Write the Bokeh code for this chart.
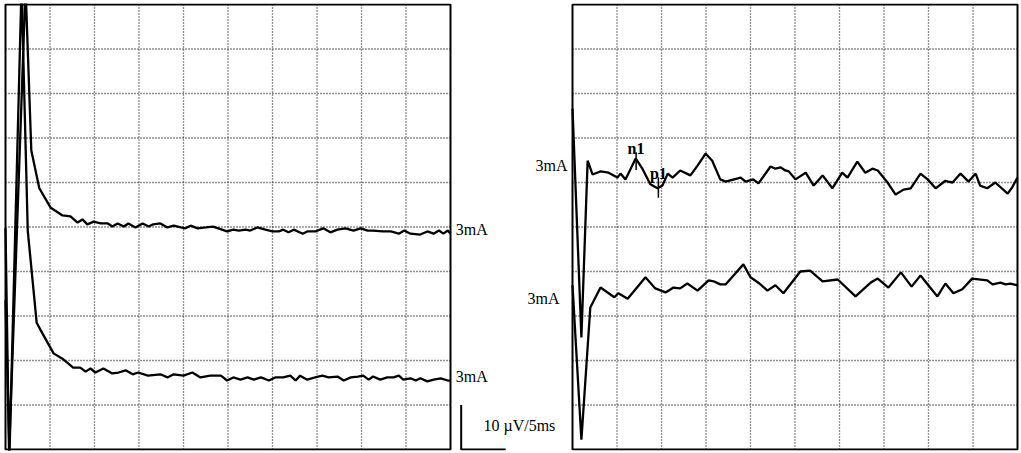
from bokeh.plotting import figure
from bokeh.layouts import row
from bokeh.models import Range1d
from bokeh.core.properties import value
from bokeh.embed import file_html
from bokeh.resources import INLINE

# ---------------- data (time in ms, amplitude in µV) ----------------
left_upper_t = [0, 0.4, 2.25, 2.9, 3.8, 5.05, 6.4, 7.3, 8.1, 8.65, 9.2, 9.9, 10.7, 11.5, 12.0, 12.6, 13.3, 13.8,
                14.6, 15.4, 16.1, 16.6, 17.4, 18.2, 18.9, 19.7, 20.2, 20.8, 21.6, 22.5, 23.3, 23.9, 24.9, 25.6,
                26.2, 27.0, 27.5, 28.3, 29.2, 30.0, 30.7, 31.2, 31.8, 32.4, 33.4, 33.9, 34.8, 35.7, 36.5, 37.3,
                38.2, 39.1, 39.9, 40.7, 41.3, 42.4, 43.3, 44.2, 44.8, 45.5, 46.6, 47.4, 48.1, 48.7, 49.2, 49.7, 50.0]
left_upper_v = [49.7, -1, 104, 67.2, 58.7, 54.4, 52.6, 52.4, 51.0, 51.7, 50.6, 51.2, 50.8, 50.8, 50.1, 50.8, 50.1, 50.8,
                49.9, 50.8, 50.1, 50.6, 50.8, 49.9, 50.3, 49.9, 49.7, 50.3, 49.7, 49.9, 50.1, 49.7, 49.0, 49.4,
                49.2, 49.4, 49.2, 49.9, 49.4, 49.0, 49.0, 49.4, 48.8, 49.4, 48.5, 49.0, 49.0, 49.7, 48.8, 49.4,
                49.7, 49.2, 49.7, 49.2, 49.2, 49.0, 49.0, 48.5, 49.2, 48.5, 48.3, 49.0, 48.5, 49.2, 48.5, 49.2, 48.5]

left_lower_t = [0, 0.45, 1.8, 2.5, 3.5, 4.15, 5.4, 6.4, 7.6, 8.4, 9.0, 9.55, 10.1, 11.0, 12.0, 12.7, 13.5, 14.3,
                14.9, 16.0, 17.4, 18.2, 18.9, 20.0, 21.0, 21.9, 23.0, 24.2, 24.9, 25.6, 26.4, 27.2, 27.9, 28.7,
                29.6, 30.3, 31.2, 32.0, 32.6, 33.1, 33.9, 34.8, 35.6, 36.3, 37.3, 38.0, 38.8, 39.6, 40.2, 40.8,
                41.3, 42.1, 42.9, 43.6, 44.2, 44.7, 45.5, 46.1, 46.6, 47.4, 48.1, 48.9, 49.7, 50.0]
left_lower_v = [33.5, -1, 104, 49.2, 28.5, 26.1, 21.6, 20.4, 18.4, 18.4, 17.5, 18.2, 17.3, 18.2, 17.1, 17.3, 17.8, 16.9,
                17.3, 16.6, 16.9, 16.2, 16.9, 16.6, 17.3, 16.2, 16.6, 16.6, 15.5, 16.2, 15.7, 16.2, 15.7, 16.2,
                15.5, 16.2, 16.2, 16.6, 15.5, 16.6, 15.7, 16.2, 16.6, 16.2, 16.4, 15.5, 16.2, 16.4, 16.6, 15.7,
                16.4, 15.7, 16.2, 16.2, 16.6, 15.7, 16.0, 15.5, 16.0, 15.3, 15.7, 16.0, 15.5, 15.5]

right_upper_t = [0, 1.0, 1.7, 2.25, 3.15, 4.05, 5.05, 5.4, 5.95, 7.1, 7.85, 8.75, 9.55, 10.1, 10.7, 11.25, 12.1,
                 13.25, 14.05, 14.95, 15.7, 16.6, 17.2, 18.9, 19.45, 20.3, 20.9, 22.25, 22.8, 23.4, 23.9, 24.3,
                 25.05, 26.2, 27.1, 28.1, 29.2, 30.3, 30.9, 32.0, 32.9, 33.7, 34.3, 35.4, 36.3, 37.2, 38.0, 39.1,
                 39.9, 40.8, 41.9, 42.2, 42.7, 43.6, 44.5, 45.3, 45.8, 46.6, 47.5, 48.9, 49.4, 50.0]
right_upper_v = [76.6, 25.2, 64.9, 61.8, 62.5, 62.2, 61.1, 62.0, 60.7, 65.4, 63.1, 59.6, 58.7, 59.3, 62.0, 61.1, 62.7,
                 61.6, 63.8, 66.5, 64.9, 60.7, 60.2, 61.1, 60.2, 60.7, 59.8, 63.6, 63.1, 63.4, 62.7, 62.5,
                 60.7, 62.2, 59.3, 61.6, 58.7, 62.2, 61.1, 64.7, 62.2, 63.1, 62.7, 60.0, 57.3, 58.4, 58.7, 62.0,
                 60.7, 58.7, 60.4, 60.2, 60.0, 62.0, 60.2, 62.0, 59.3, 58.7, 60.0, 57.5, 58.9, 61.1]

right_lower_t = [0, 1.0, 2.0, 3.15, 4.7, 5.15, 6.2, 8.2, 9.3, 10.45, 11.35, 12.1, 12.9, 14.05, 15.3, 15.85, 16.6,
                 17.2, 19.2, 20.0, 21.0, 21.9, 22.8, 23.7, 25.6, 26.7, 28.1, 29.8, 31.8, 33.5, 34.3, 35.5, 36.9,
                 38.1, 39.1, 41.0, 41.9, 42.8, 43.8, 44.9, 46.6, 47.2, 48.1, 48.65, 49.2, 50.0]
right_lower_v = [36.9, 2.2, 31.9, 36.4, 34.2, 35.1, 33.9, 38.7, 36.2, 35.3, 36.4, 36.2, 37.3, 35.7, 38.0, 37.8, 37.1,
                 37.1, 41.6, 38.7, 37.3, 35.7, 36.9, 35.1, 40.0, 40.2, 37.8, 38.2, 34.4, 37.5, 38.4, 36.4, 39.8,
                 36.6, 39.1, 34.4, 37.3, 35.1, 36.0, 38.4, 38.0, 37.1, 37.5, 37.1, 37.3, 36.9]

grid_ms = [5, 10, 15, 20, 25, 30, 35, 40, 45]
grid_uv = [10, 20, 30, 40, 50, 60, 70, 80, 90]
panel_ms = 50
panel_uv = 100

stim_label = "3mA"
scale_label = "10 µV/5ms"
scale_uv = 10
scale_ms = 5
peak_names = ["n1", "p1"]
peak_ms = [7.15, 9.65]
peak_tick_lo = [62.8, 56.6]
peak_tick_hi = [66.8, 61.2]

# ---------------- layout ----------------
PX_PER_MS = 8.9
PX_PER_UV = 4.45
BORDER_TOP = 3
BORDER_BOTTOM = 2
FRAME_H = 447
Y_PAD = (FRAME_H / PX_PER_UV - panel_uv) / 2
SERIF = value("Liberation Serif")
TRACE_W = 2.3


def make_fig(x0, frame_w):
    x1 = x0 + frame_w / PX_PER_MS
    p = figure(frame_width=frame_w, frame_height=FRAME_H,
               x_range=Range1d(x0, x1), y_range=Range1d(-Y_PAD, panel_uv + Y_PAD),
               x_axis_type=None, y_axis_type=None,
               toolbar_location=None, output_backend="svg",
               min_border_left=0, min_border_right=0,
               min_border_top=BORDER_TOP, min_border_bottom=BORDER_BOTTOM,
               title=None)
    p.outline_line_color = None
    p.background_fill_color = "white"
    p.border_fill_color = "white"
    return p


def draw_panel(p):
    p.segment(x0=grid_ms, y0=0, x1=grid_ms, y1=panel_uv,
              line_color="#222222", line_width=1.3, line_dash="1 2")
    p.segment(x0=0, y0=grid_uv, x1=panel_ms, y1=grid_uv,
              line_color="#222222", line_width=1.3, line_dash="1 2")
    p.quad(left=0, right=panel_ms, bottom=0, top=panel_uv,
           fill_color=None, line_color="black", line_width=2)


# left panel (its frame also holds the gap with labels and scale bar)
left = make_fig(-5 / PX_PER_MS, 570)
draw_panel(left)
left.line(left_upper_t, left_upper_v, line_color="black", line_width=TRACE_W)
left.line(left_lower_t, left_lower_v, line_color="black", line_width=TRACE_W)
left.text(x=[50.6, 50.6], y=[49.4, 16.4], text=[stim_label, stim_label],
          text_font=SERIF, text_font_size="16px", text_color="black",
          text_align="left", text_baseline="middle")
# right-panel labels placed in the gap, right aligned against the right panel
left.text(x=[63.15, 62.25], y=[63.8, 33.9], text=[stim_label, stim_label],
          text_font=SERIF, text_font_size="16px", text_color="black",
          text_align="right", text_baseline="middle")
# scale bar
sb_x = 51.2
left.line([sb_x, sb_x, sb_x + scale_ms], [scale_uv, 0, 0], line_color="black", line_width=2)
left.text(x=[53.7], y=[5.4], text=[scale_label],
          text_font=SERIF, text_font_size="16px", text_color="black",
          text_align="left", text_baseline="middle")

# right panel
right = make_fig(-2 / PX_PER_MS, 450)
draw_panel(right)
right.line(right_upper_t, right_upper_v, line_color="black", line_width=TRACE_W)
right.line(right_lower_t, right_lower_v, line_color="black", line_width=TRACE_W)
right.segment(x0=peak_ms, y0=peak_tick_lo, x1=peak_ms, y1=peak_tick_hi,
              line_color="black", line_width=1.5)
right.text(x=[7.13, 9.65], y=[67.6, 62.0], text=peak_names,
           text_font=SERIF, text_font_size="16px", text_font_style="bold",
           text_color="black", text_align="center", text_baseline="alphabetic")

layout = row(left, right, spacing=0)
open("out.html", "w").write(file_html(layout, INLINE))
